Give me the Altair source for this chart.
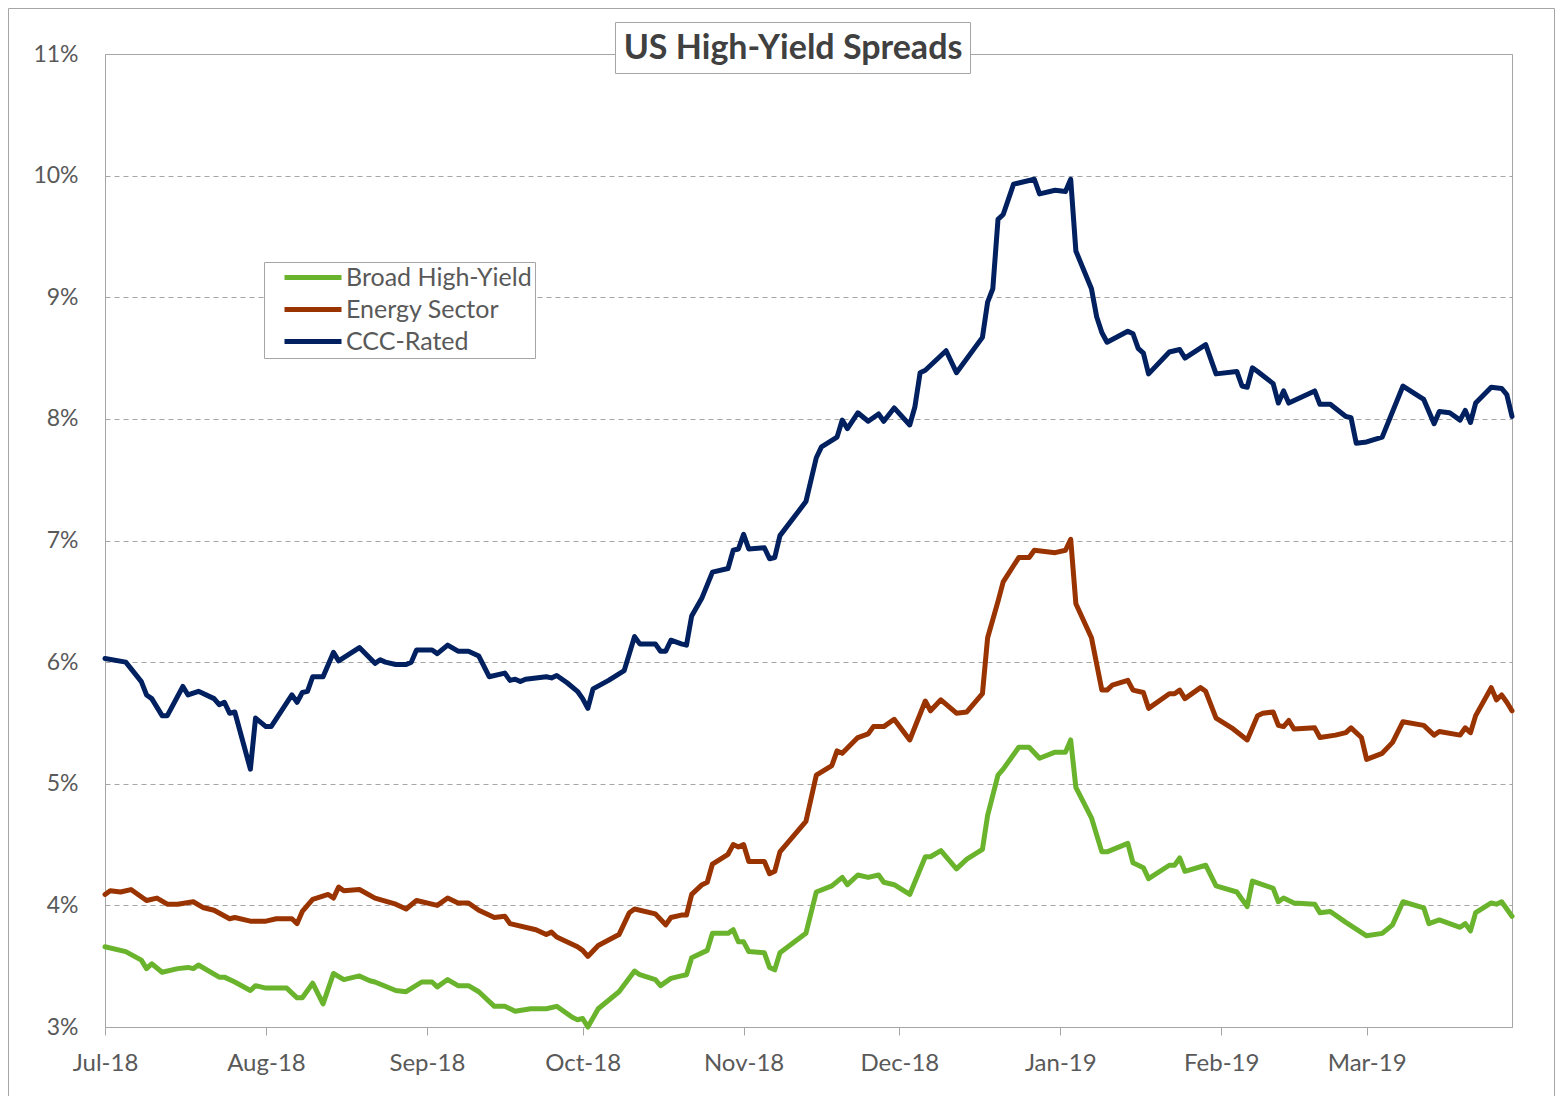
import altair as alt
import pandas as pd

title_text = "US High-Yield Spreads"
series_names = ["Broad High-Yield", "Energy Sector", "CCC-Rated"]
series_colors = ["#6ab42d", "#993300", "#002060"]
y_ticks = [3, 4, 5, 6, 7, 8, 9, 10, 11]
month_ticks = [(2018, 7), (2018, 8), (2018, 9), (2018, 10), (2018, 11), (2018, 12),
               (2019, 1), (2019, 2), (2019, 3)]

ccc_dates = [
    "2018-07-01", "2018-07-05", "2018-07-08", "2018-07-09", "2018-07-10", "2018-07-12", "2018-07-13",
    "2018-07-16", "2018-07-17", "2018-07-19", "2018-07-22", "2018-07-23", "2018-07-24", "2018-07-25",
    "2018-07-26", "2018-07-29", "2018-07-30", "2018-08-01", "2018-08-02", "2018-08-06", "2018-08-07",
    "2018-08-08", "2018-08-09", "2018-08-10", "2018-08-12", "2018-08-14", "2018-08-15", "2018-08-19",
    "2018-08-22", "2018-08-23", "2018-08-24", "2018-08-26", "2018-08-28", "2018-08-29", "2018-08-30",
    "2018-09-02", "2018-09-03", "2018-09-05", "2018-09-07", "2018-09-09", "2018-09-11", "2018-09-13",
    "2018-09-16", "2018-09-17", "2018-09-18", "2018-09-19", "2018-09-20", "2018-09-24", "2018-09-25",
    "2018-09-26", "2018-09-28", "2018-09-30", "2018-10-01", "2018-10-02", "2018-10-03", "2018-10-06",
    "2018-10-09", "2018-10-11", "2018-10-12", "2018-10-15", "2018-10-16", "2018-10-17", "2018-10-18",
    "2018-10-20", "2018-10-21", "2018-10-22", "2018-10-24", "2018-10-26", "2018-10-29", "2018-10-30",
    "2018-10-31", "2018-11-01", "2018-11-02", "2018-11-05", "2018-11-06", "2018-11-07", "2018-11-08",
    "2018-11-13", "2018-11-15", "2018-11-16", "2018-11-19", "2018-11-20", "2018-11-21", "2018-11-23",
    "2018-11-25", "2018-11-27", "2018-11-28", "2018-11-30", "2018-12-03", "2018-12-04", "2018-12-05",
    "2018-12-06", "2018-12-10", "2018-12-12", "2018-12-17", "2018-12-18", "2018-12-19", "2018-12-20",
    "2018-12-21", "2018-12-23", "2018-12-27", "2018-12-28", "2018-12-31", "2019-01-02", "2019-01-03",
    "2019-01-04", "2019-01-07", "2019-01-08", "2019-01-09", "2019-01-10", "2019-01-14", "2019-01-15",
    "2019-01-16", "2019-01-17", "2019-01-18", "2019-01-22", "2019-01-24", "2019-01-25", "2019-01-29",
    "2019-01-31", "2019-02-04", "2019-02-05", "2019-02-06", "2019-02-07", "2019-02-08", "2019-02-11",
    "2019-02-12", "2019-02-13", "2019-02-14", "2019-02-19", "2019-02-20", "2019-02-22", "2019-02-25",
    "2019-02-26", "2019-02-27", "2019-03-01", "2019-03-04", "2019-03-08", "2019-03-12", "2019-03-14",
    "2019-03-15", "2019-03-17", "2019-03-19", "2019-03-20", "2019-03-21", "2019-03-22", "2019-03-25",
    "2019-03-27", "2019-03-28", "2019-03-29",
]
ccc_vals = [
    6.03, 6.00, 5.84, 5.73, 5.70, 5.56, 5.56,
    5.80, 5.73, 5.76, 5.70, 5.65, 5.67, 5.58,
    5.59, 5.12, 5.54, 5.47, 5.47, 5.73, 5.67,
    5.75, 5.76, 5.88, 5.88, 6.08, 6.01, 6.12,
    5.99, 6.02, 6.00, 5.98, 5.98, 6.00, 6.10,
    6.10, 6.07, 6.14, 6.09, 6.09, 6.05, 5.88,
    5.91, 5.85, 5.86, 5.84, 5.86, 5.88, 5.87,
    5.89, 5.83, 5.76, 5.70, 5.62, 5.78, 5.85,
    5.93, 6.21, 6.15, 6.15, 6.09, 6.09, 6.18,
    6.15, 6.14, 6.38, 6.53, 6.74, 6.77, 6.92,
    6.93, 7.05, 6.93, 6.94, 6.85, 6.86, 7.04,
    7.32, 7.68, 7.77, 7.85, 7.99, 7.92, 8.05,
    7.98, 8.04, 7.98, 8.09, 7.95, 8.10, 8.38,
    8.40, 8.56, 8.38, 8.67, 8.96, 9.07, 9.64,
    9.68, 9.93, 9.97, 9.85, 9.88, 9.87, 9.97,
    9.38, 9.07, 8.84, 8.71, 8.63, 8.72, 8.70,
    8.58, 8.54, 8.37, 8.55, 8.57, 8.50, 8.61,
    8.37, 8.39, 8.27, 8.26, 8.42, 8.39, 8.29,
    8.13, 8.23, 8.13, 8.23, 8.12, 8.12, 8.02,
    8.01, 7.80, 7.81, 7.85, 8.27, 8.16, 7.96,
    8.06, 8.05, 7.99, 8.07, 7.97, 8.13, 8.26,
    8.25, 8.20, 8.02,
]

energy_dates = [
    "2018-07-01", "2018-07-02", "2018-07-04", "2018-07-06", "2018-07-09", "2018-07-11", "2018-07-13",
    "2018-07-15", "2018-07-18", "2018-07-20", "2018-07-22", "2018-07-25", "2018-07-26", "2018-07-29",
    "2018-08-01", "2018-08-03", "2018-08-06", "2018-08-07", "2018-08-08", "2018-08-10", "2018-08-13",
    "2018-08-14", "2018-08-15", "2018-08-16", "2018-08-19", "2018-08-22", "2018-08-26", "2018-08-28",
    "2018-08-30", "2018-09-03", "2018-09-05", "2018-09-07", "2018-09-09", "2018-09-11", "2018-09-14",
    "2018-09-16", "2018-09-17", "2018-09-22", "2018-09-24", "2018-09-25", "2018-09-26", "2018-09-30",
    "2018-10-01", "2018-10-02", "2018-10-04", "2018-10-08", "2018-10-10", "2018-10-11", "2018-10-15",
    "2018-10-17", "2018-10-18", "2018-10-20", "2018-10-21", "2018-10-22", "2018-10-24", "2018-10-25",
    "2018-10-26", "2018-10-29", "2018-10-30", "2018-10-31", "2018-11-01", "2018-11-02", "2018-11-05",
    "2018-11-06", "2018-11-07", "2018-11-08", "2018-11-13", "2018-11-15", "2018-11-18", "2018-11-19",
    "2018-11-20", "2018-11-23", "2018-11-25", "2018-11-26", "2018-11-28", "2018-11-30", "2018-12-03",
    "2018-12-06", "2018-12-07", "2018-12-09", "2018-12-12", "2018-12-14", "2018-12-17", "2018-12-18",
    "2018-12-20", "2018-12-21", "2018-12-24", "2018-12-26", "2018-12-27", "2018-12-31", "2019-01-02",
    "2019-01-03", "2019-01-04", "2019-01-07", "2019-01-09", "2019-01-10", "2019-01-11", "2019-01-14",
    "2019-01-15", "2019-01-17", "2019-01-18", "2019-01-22", "2019-01-23", "2019-01-24", "2019-01-25",
    "2019-01-28", "2019-01-29", "2019-01-31", "2019-02-03", "2019-02-06", "2019-02-08", "2019-02-09",
    "2019-02-11", "2019-02-12", "2019-02-13", "2019-02-14", "2019-02-15", "2019-02-19", "2019-02-20",
    "2019-02-23", "2019-02-25", "2019-02-26", "2019-02-28", "2019-03-01", "2019-03-04", "2019-03-06",
    "2019-03-08", "2019-03-12", "2019-03-14", "2019-03-15", "2019-03-19", "2019-03-20", "2019-03-21",
    "2019-03-22", "2019-03-25", "2019-03-26", "2019-03-27", "2019-03-28", "2019-03-29",
]
energy_vals = [
    4.09, 4.12, 4.11, 4.13, 4.04, 4.06, 4.01,
    4.01, 4.03, 3.98, 3.96, 3.89, 3.90, 3.87,
    3.87, 3.89, 3.89, 3.85, 3.95, 4.05, 4.09,
    4.06, 4.15, 4.12, 4.13, 4.06, 4.01, 3.97,
    4.04, 4.00, 4.06, 4.02, 4.02, 3.96, 3.90,
    3.91, 3.85, 3.80, 3.76, 3.78, 3.74, 3.66,
    3.63, 3.58, 3.67, 3.76, 3.94, 3.97, 3.93,
    3.84, 3.90, 3.92, 3.92, 4.09, 4.17, 4.19,
    4.34, 4.42, 4.50, 4.48, 4.50, 4.36, 4.36,
    4.26, 4.28, 4.44, 4.69, 5.07, 5.15, 5.27,
    5.25, 5.38, 5.41, 5.47, 5.47, 5.53, 5.36,
    5.68, 5.60, 5.69, 5.58, 5.59, 5.74, 6.20,
    6.50, 6.66, 6.86, 6.86, 6.92, 6.90, 6.92,
    7.01, 6.48, 6.20, 5.77, 5.77, 5.81, 5.85,
    5.77, 5.75, 5.62, 5.74, 5.74, 5.77, 5.70,
    5.79, 5.76, 5.54, 5.46, 5.36, 5.56, 5.58,
    5.59, 5.48, 5.47, 5.52, 5.45, 5.46, 5.38,
    5.40, 5.42, 5.46, 5.38, 5.20, 5.25, 5.34,
    5.51, 5.48, 5.40, 5.43, 5.40, 5.46, 5.42,
    5.56, 5.79, 5.69, 5.73, 5.67, 5.60,
]

broad_dates = [
    "2018-07-01", "2018-07-05", "2018-07-08", "2018-07-09", "2018-07-10", "2018-07-12", "2018-07-15",
    "2018-07-17", "2018-07-18", "2018-07-19", "2018-07-23", "2018-07-24", "2018-07-26", "2018-07-29",
    "2018-07-30", "2018-08-01", "2018-08-03", "2018-08-05", "2018-08-07", "2018-08-08", "2018-08-10",
    "2018-08-12", "2018-08-14", "2018-08-16", "2018-08-19", "2018-08-21", "2018-08-22", "2018-08-26",
    "2018-08-28", "2018-08-31", "2018-09-02", "2018-09-03", "2018-09-05", "2018-09-07", "2018-09-09",
    "2018-09-11", "2018-09-14", "2018-09-16", "2018-09-18", "2018-09-21", "2018-09-24", "2018-09-26",
    "2018-09-29", "2018-09-30", "2018-10-01", "2018-10-02", "2018-10-04", "2018-10-08", "2018-10-11",
    "2018-10-12", "2018-10-15", "2018-10-16", "2018-10-18", "2018-10-20", "2018-10-21", "2018-10-22",
    "2018-10-25", "2018-10-26", "2018-10-29", "2018-10-30", "2018-10-31", "2018-11-01", "2018-11-02",
    "2018-11-05", "2018-11-06", "2018-11-07", "2018-11-08", "2018-11-13", "2018-11-15", "2018-11-18",
    "2018-11-20", "2018-11-21", "2018-11-23", "2018-11-25", "2018-11-27", "2018-11-28", "2018-11-30",
    "2018-12-03", "2018-12-06", "2018-12-07", "2018-12-09", "2018-12-12", "2018-12-14", "2018-12-17",
    "2018-12-18", "2018-12-20", "2018-12-21", "2018-12-24", "2018-12-26", "2018-12-28", "2018-12-31",
    "2019-01-02", "2019-01-03", "2019-01-04", "2019-01-07", "2019-01-09", "2019-01-10", "2019-01-14",
    "2019-01-15", "2019-01-17", "2019-01-18", "2019-01-22", "2019-01-23", "2019-01-24", "2019-01-25",
    "2019-01-29", "2019-01-31", "2019-02-04", "2019-02-06", "2019-02-07", "2019-02-11", "2019-02-12",
    "2019-02-13", "2019-02-15", "2019-02-19", "2019-02-20", "2019-02-22", "2019-02-25", "2019-03-01",
    "2019-03-04", "2019-03-06", "2019-03-08", "2019-03-12", "2019-03-13", "2019-03-15", "2019-03-19",
    "2019-03-20", "2019-03-21", "2019-03-22", "2019-03-25", "2019-03-26", "2019-03-27", "2019-03-29",
]
broad_vals = [
    3.66, 3.62, 3.55, 3.48, 3.52, 3.45, 3.48,
    3.49, 3.48, 3.51, 3.41, 3.41, 3.37, 3.30,
    3.34, 3.32, 3.32, 3.32, 3.24, 3.24, 3.36,
    3.19, 3.44, 3.39, 3.42, 3.38, 3.37, 3.30,
    3.29, 3.37, 3.37, 3.33, 3.39, 3.34, 3.34,
    3.29, 3.17, 3.17, 3.13, 3.15, 3.15, 3.17,
    3.08, 3.06, 3.07, 3.00, 3.15, 3.29, 3.46,
    3.43, 3.39, 3.34, 3.40, 3.42, 3.43, 3.57,
    3.63, 3.77, 3.77, 3.80, 3.70, 3.70, 3.62,
    3.61, 3.49, 3.47, 3.61, 3.77, 4.11, 4.16,
    4.23, 4.17, 4.25, 4.23, 4.25, 4.19, 4.17,
    4.09, 4.40, 4.40, 4.45, 4.30, 4.38, 4.46,
    4.74, 5.07, 5.12, 5.30, 5.30, 5.21, 5.26,
    5.26, 5.36, 4.97, 4.72, 4.44, 4.44, 4.51,
    4.35, 4.31, 4.22, 4.33, 4.33, 4.39, 4.28,
    4.33, 4.16, 4.11, 3.99, 4.20, 4.14, 4.03,
    4.06, 4.02, 4.01, 3.94, 3.95, 3.86, 3.75,
    3.77, 3.84, 4.03, 3.98, 3.85, 3.88, 3.82,
    3.85, 3.79, 3.94, 4.02, 4.01, 4.03, 3.91,
]

frames = []
for name, d, v in [(series_names[0], broad_dates, broad_vals),
                   (series_names[1], energy_dates, energy_vals),
                   (series_names[2], ccc_dates, ccc_vals)]:
    frames.append(pd.DataFrame({"date": d, "value": v, "series": name}))
df = pd.concat(frames, ignore_index=True)

W, H = 1407, 973
PAD = {"left": 97, "top": 46, "right": 44, "bottom": 69}
GRAY = "#a6a6a6"
TEXT = "#595959"
FONT = "Lato"

x_scale = alt.Scale(type="utc", domain=[alt.DateTime(year=2018, month=7, date=1, utc=True),
                                        alt.DateTime(year=2019, month=3, date=29, utc=True)])
x_vals = [alt.DateTime(year=y, month=m, date=1, utc=True) for y, m in month_ticks]

lines = alt.Chart(df).mark_line(strokeWidth=5, strokeJoin="round", strokeCap="round").encode(
    x=alt.X("date:T", scale=x_scale,
            axis=alt.Axis(values=x_vals, labelExpr="utcFormat(datum.value, '%b-%y')", title=None,
                          labelFont=FONT, labelFontSize=24, labelColor=TEXT, labelFlush=False,
                          labelOverlap=False,
                          tickColor=GRAY, tickSize=8, labelPadding=16, domain=False, grid=False)),
    y=alt.Y("value:Q", scale=alt.Scale(domain=[3, 11], nice=False, zero=False),
            axis=alt.Axis(values=y_ticks, labelExpr="datum.value + '%'", title=None,
                          labelFont=FONT, labelFontSize=23, labelColor=TEXT,
                          ticks=False, domain=False, labelPadding=27,
                          grid=True, gridColor=GRAY, gridDash=[5, 4], gridWidth=1)),
    color=alt.Color("series:N", sort=series_names,
                    scale=alt.Scale(domain=series_names, range=series_colors),
                    legend=alt.Legend(orient="none", legendX=159, legendY=208, title=None,
                                      symbolType="stroke", symbolSize=3249, symbolStrokeWidth=5,
                                      clipHeight=25, rowPadding=6, padding=3,
                                      symbolOffset=15, labelOffset=2, labelLimit=400,
                                      labelFont=FONT, labelFontSize=25, labelColor=TEXT,
                                      fillColor="white", strokeColor=GRAY)),
)

one = pd.DataFrame({"t": [title_text]})

outer = alt.Chart(one).mark_rect(fill=None, stroke=GRAY, strokeWidth=1).encode(
    x=alt.value(-96.5), x2=alt.value(W + PAD["right"] - 1.5),
    y=alt.value(-45.5), y2=alt.value(H + PAD["bottom"] + 20),
)

title_box = alt.Chart(one).mark_rect(fill="white", stroke=GRAY, strokeWidth=1).encode(
    x=alt.value(510.5), x2=alt.value(865.5), y=alt.value(-31.5), y2=alt.value(19.5),
)

title = alt.Chart(one).mark_text(font=FONT, fontWeight="bold", fontSize=34, color="#404040",
                                 align="center", baseline="middle").encode(
    x=alt.value(688), y=alt.value(-5), text="t:N",
)

chart = alt.layer(lines, outer, title_box, title).properties(
    width=W, height=H, padding=PAD, autosize=alt.AutoSizeParams(type="none"),
    background="white",
).configure_view(stroke=GRAY, strokeWidth=1)

chart.save("out.html", embed_options={"renderer": "svg", "actions": False})
